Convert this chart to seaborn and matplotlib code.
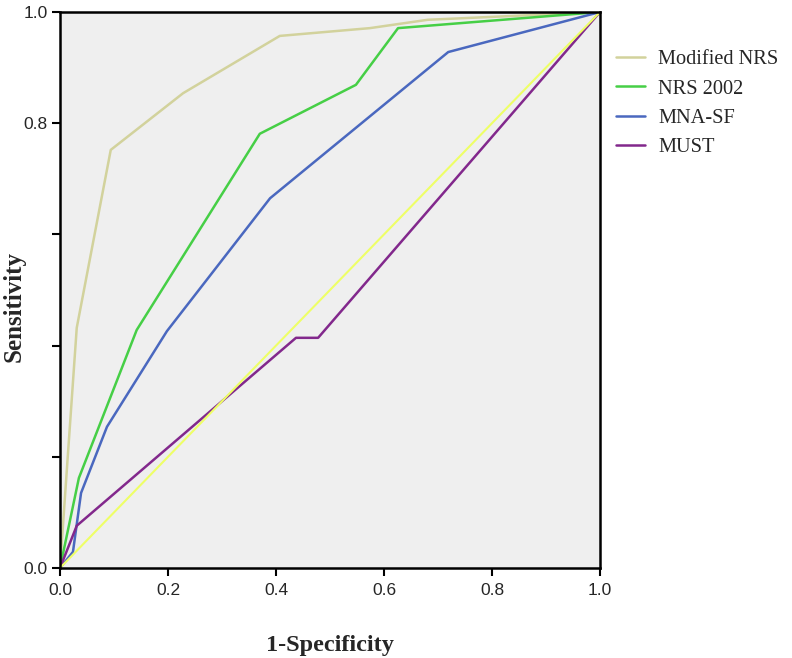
import matplotlib
matplotlib.use("Agg")
import matplotlib.pyplot as plt
import seaborn as sns

# ROC curves
mod_nrs_x = [0.0, 0.031, 0.094, 0.228, 0.407, 0.574, 0.681, 1.0]
mod_nrs_y = [0.0, 0.432, 0.752, 0.854, 0.957, 0.971, 0.986, 1.0]

nrs2002_x = [0.0, 0.035, 0.142, 0.370, 0.548, 0.626, 1.0]
nrs2002_y = [0.0, 0.162, 0.428, 0.781, 0.869, 0.971, 1.0]

mna_sf_x = [0.0, 0.024, 0.039, 0.087, 0.198, 0.389, 0.719, 1.0]
mna_sf_y = [0.0, 0.029, 0.135, 0.254, 0.426, 0.665, 0.928, 1.0]

must_x = [0.0, 0.031, 0.437, 0.478, 1.0]
must_y = [0.0, 0.076, 0.414, 0.414, 1.0]

ref_x = [0.0, 1.0]
ref_y = [0.0, 1.0]

curves = [
    ("Modified NRS", mod_nrs_x, mod_nrs_y, "#d2d29c"),
    ("NRS 2002", nrs2002_x, nrs2002_y, "#46cf46"),
    ("MNA-SF", mna_sf_x, mna_sf_y, "#4a68bf"),
    ("MUST", must_x, must_y, "#82288c"),
]

sns.set_style("ticks")
plt.rcParams["font.family"] = ["Liberation Sans", "DejaVu Sans"]

fig = plt.figure(figsize=(7.92, 6.58), dpi=100)
ax = fig.add_axes([60 / 792, 90 / 658, 540 / 792, 556 / 658])
ax.set_facecolor("#efefef")

for name, xs, ys, col in curves:
    sns.lineplot(x=xs, y=ys, ax=ax, color=col, linewidth=1.8,
                 sort=False, estimator=None, label=name)
sns.lineplot(x=ref_x, y=ref_y, ax=ax, color="#eeff66", linewidth=1.5,
             sort=False, estimator=None, legend=False)

ax.set_xlim(0, 1)
ax.set_ylim(0, 1)
ax.set_xticks([0.0, 0.2, 0.4, 0.6, 0.8, 1.0])
ax.set_xticklabels(["0.0", "0.2", "0.4", "0.6", "0.8", "1.0"])
ax.set_yticks([0.0, 0.2, 0.4, 0.6, 0.8, 1.0])
ax.set_yticklabels(["0.0", "", "", "", "0.8", "1.0"])
ax.tick_params(direction="out", length=6, width=1.5, labelsize=12.5,
               color="black", pad=3)
ax.tick_params(axis="x", pad=5)
for s in ax.spines.values():
    s.set_linewidth(1.8)
    s.set_color("black")

ax.set_xlabel("1-Specificity", family="Liberation Serif", fontweight="bold",
              fontsize=17.5)
ax.set_ylabel("Sensitivity", family="Liberation Serif", fontweight="bold",
              fontsize=18)
ax.xaxis.set_label_coords(270 / 540, -67 / 556)
ax.yaxis.set_label_coords(-34 / 540, 262 / 556)

handles, labels = ax.get_legend_handles_labels()
ax.legend_.remove()
fig.legend(handles, labels, loc="upper left", bbox_to_anchor=(616 / 792, 1 - 50 / 658),
           frameon=False, prop={"family": "Liberation Serif", "size": 14.7},
           handlelength=1.42, handletextpad=0.64, labelspacing=0.49,
           borderpad=0, borderaxespad=0)

fig.savefig("out.png", dpi=100)
